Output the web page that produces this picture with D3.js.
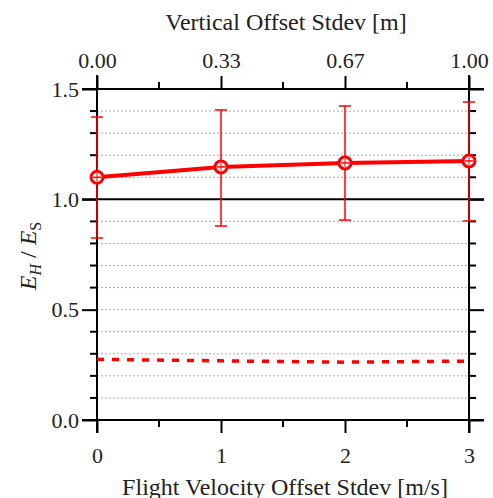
<!DOCTYPE html>
<html>
<head>
<meta charset="utf-8">
<script src="https://cdn.jsdelivr.net/npm/d3@7"></script>
<style>
  body { margin: 0; background: #fff; }
  text { font-family: "Liberation Serif", "Times New Roman", serif; fill: #222; }
</style>
</head>
<body>
<svg id="chart" width="493" height="498"></svg>
<script>
// velocity offset stdev [m/s]
var velocity = [0, 1, 2, 3];
// ratio E_H / E_S, solid series with error bars
var ratio = [1.10, 1.147, 1.165, 1.174];
var ratioHi = [1.373, 1.405, 1.423, 1.441];
var ratioLo = [0.825, 0.879, 0.906, 0.902];
// dashed series
var dashed = [0.275, 0.268, 0.262, 0.267];
// top axis labels
var topTicks = [0, 1, 2, 3];
var topLabels = ["0.00", "0.33", "0.67", "1.00"];
var yTicks = [0.0, 0.5, 1.0, 1.5];

var svg = d3.select("#chart");
var pLeft = 97, pRight = 469, pTop = 89, pBottom = 420;

var x = d3.scaleLinear().domain([0, 3]).range([pLeft, pRight]);
var y = d3.scaleLinear().domain([0, 1.5]).range([pBottom, pTop]);

var minorY = d3.range(1, 15).map(function(d) { return d / 10; });
var minorX = [0.5, 1.5, 2.5];

// dotted grid
svg.append("g").selectAll("line").data(minorY.filter(function(d) { return Math.abs(d - 1) > 1e-6; }))
  .enter().append("line")
  .attr("x1", pLeft).attr("x2", pRight)
  .attr("y1", function(d) { return y(d); }).attr("y2", function(d) { return y(d); })
  .attr("stroke", "#aaa").attr("stroke-width", 1).attr("stroke-dasharray", "2,2");

// reference line at 1.0
svg.append("line")
  .attr("x1", 82).attr("x2", 484).attr("y1", y(1)).attr("y2", y(1))
  .attr("stroke", "#000").attr("stroke-width", 2);

// frame lines
svg.append("line").attr("x1", 82).attr("x2", 484).attr("y1", pTop).attr("y2", pTop).attr("stroke", "#000").attr("stroke-width", 2);
svg.append("line").attr("x1", 82).attr("x2", 484).attr("y1", pBottom).attr("y2", pBottom).attr("stroke", "#000").attr("stroke-width", 2);
svg.append("line").attr("x1", pLeft).attr("x2", pLeft).attr("y1", 75).attr("y2", 433).attr("stroke", "#000").attr("stroke-width", 2);
svg.append("line").attr("x1", pRight).attr("x2", pRight).attr("y1", 75).attr("y2", 433).attr("stroke", "#000").attr("stroke-width", 2);

// axes
var bx = svg.append("g").attr("transform", "translate(0," + pBottom + ")")
  .call(d3.axisBottom(x).tickValues(velocity).tickFormat(d3.format("d")).tickSize(13).tickPadding(14));
var topAx = svg.append("g").attr("transform", "translate(0," + pTop + ")")
  .call(d3.axisTop(x).tickValues(topTicks).tickFormat(function(d, i) { return topLabels[i]; }).tickSize(13).tickPadding(8));
var lx = svg.append("g").attr("transform", "translate(" + pLeft + ",0)")
  .call(d3.axisLeft(y).tickValues(yTicks).tickFormat(d3.format(".1f")).tickSize(15).tickPadding(3));
var rx = svg.append("g").attr("transform", "translate(" + pRight + ",0)")
  .call(d3.axisRight(y).tickValues(yTicks).tickFormat("").tickSize(15));

[bx, topAx, lx, rx].forEach(function(g) {
  g.select(".domain").remove();
  g.selectAll(".tick line").attr("stroke", "#000").attr("stroke-width", 2);
  g.selectAll("text").style("font-family", "Liberation Serif, serif").style("font-size", "22px").attr("fill", "#222");
});

// minor ticks
svg.append("g").selectAll("line").data(minorX).enter().append("line")
  .attr("x1", function(d) { return x(d); }).attr("x2", function(d) { return x(d); })
  .attr("y1", pBottom).attr("y2", pBottom + 7).attr("stroke", "#000").attr("stroke-width", 2);
svg.append("g").selectAll("line").data(minorX).enter().append("line")
  .attr("x1", function(d) { return x(d); }).attr("x2", function(d) { return x(d); })
  .attr("y1", pTop).attr("y2", pTop - 7).attr("stroke", "#000").attr("stroke-width", 2);
var minorYOnly = minorY.filter(function(d) { return Math.abs(d - 0.5) > 1e-6 && Math.abs(d - 1) > 1e-6; });
svg.append("g").selectAll("line").data(minorYOnly).enter().append("line")
  .attr("x1", pLeft - 7).attr("x2", pLeft)
  .attr("y1", function(d) { return y(d); }).attr("y2", function(d) { return y(d); })
  .attr("stroke", "#000").attr("stroke-width", 2);
svg.append("g").selectAll("line").data(minorYOnly).enter().append("line")
  .attr("x1", pRight).attr("x2", pRight + 7)
  .attr("y1", function(d) { return y(d); }).attr("y2", function(d) { return y(d); })
  .attr("stroke", "#000").attr("stroke-width", 2);

var red = "#ff0000";

// dashed series
svg.append("path")
  .datum(velocity.map(function(v, i) { return [v, dashed[i]]; }))
  .attr("d", d3.line().x(function(d) { return x(d[0]); }).y(function(d) { return y(d[1]); }))
  .attr("fill", "none").attr("stroke", red).attr("stroke-width", 3.5).attr("stroke-dasharray", "7,8");

// error bars
var eb = svg.append("g").selectAll("g").data(velocity).enter().append("g").attr("stroke", red).attr("stroke-width", 1.5);
eb.append("line")
  .attr("x1", function(d) { return x(d); }).attr("x2", function(d) { return x(d); })
  .attr("y1", function(d, i) { return y(ratioHi[i]); }).attr("y2", function(d, i) { return y(ratioLo[i]); });
eb.append("line")
  .attr("x1", function(d) { return x(d) - 6; }).attr("x2", function(d) { return x(d) + 6; })
  .attr("y1", function(d, i) { return y(ratioHi[i]); }).attr("y2", function(d, i) { return y(ratioHi[i]); });
eb.append("line")
  .attr("x1", function(d) { return x(d) - 6; }).attr("x2", function(d) { return x(d) + 6; })
  .attr("y1", function(d, i) { return y(ratioLo[i]); }).attr("y2", function(d, i) { return y(ratioLo[i]); });

// solid series
svg.append("path")
  .datum(velocity.map(function(v, i) { return [v, ratio[i]]; }))
  .attr("d", d3.line().x(function(d) { return x(d[0]); }).y(function(d) { return y(d[1]); }))
  .attr("fill", "none").attr("stroke", red).attr("stroke-width", 4);

// markers
var mk = svg.append("g").selectAll("g").data(velocity).enter().append("g")
  .attr("transform", function(d, i) { return "translate(" + x(d) + "," + y(ratio[i]) + ")"; });
mk.append("circle").attr("r", 6).attr("fill", "#fff").attr("stroke", red).attr("stroke-width", 3);
mk.append("line").attr("x1", -4).attr("x2", 4).attr("stroke", red).attr("stroke-width", 1.5);
mk.append("line").attr("y1", -4).attr("y2", 4).attr("stroke", red).attr("stroke-width", 1);

// axis titles
svg.append("text").attr("x", 286).attr("y", 30).attr("text-anchor", "middle")
  .style("font-size", "24px").text("Vertical Offset Stdev [m]");
svg.append("text").attr("x", 285).attr("y", 495).attr("text-anchor", "middle")
  .style("font-size", "24px").text("Flight Velocity Offset Stdev [m/s]");

var yl = svg.append("text").attr("transform", "translate(36,256) rotate(-90)").attr("text-anchor", "middle")
  .style("font-size", "24px").style("font-style", "italic");
yl.append("tspan").text("E");
yl.append("tspan").attr("dy", 5).style("font-size", "16px").text("H");
yl.append("tspan").attr("dy", -5).style("font-style", "normal").text(" / ");
yl.append("tspan").text("E");
yl.append("tspan").attr("dy", 5).style("font-size", "16px").style("font-style", "normal").text("S");
</script>
</body>
</html>
